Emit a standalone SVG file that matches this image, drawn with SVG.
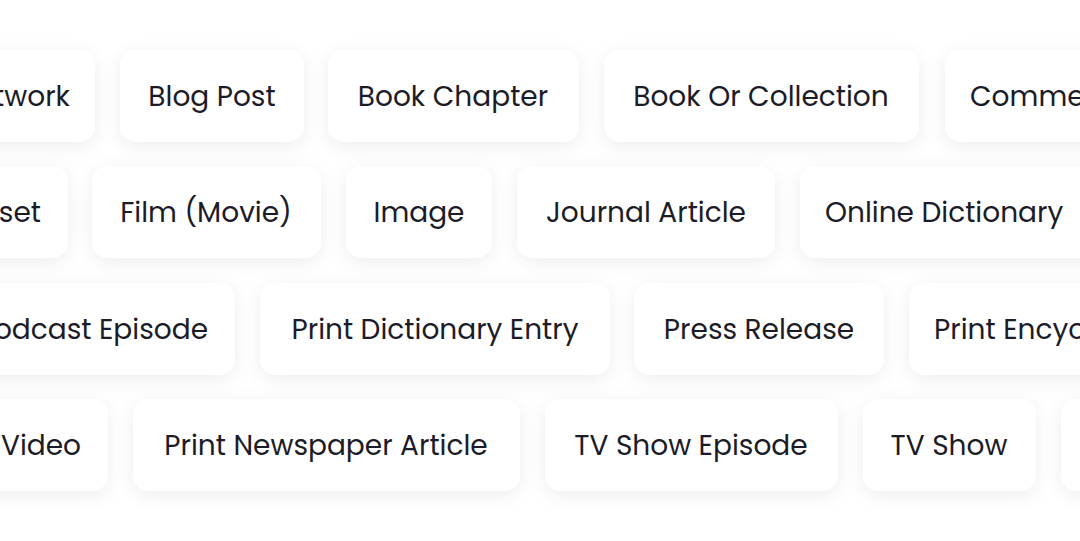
<svg xmlns="http://www.w3.org/2000/svg" width="1080" height="541" viewBox="0 0 1080 541">
<defs>
<filter id="sh" x="-20%" y="-40%" width="140%" height="180%"><feDropShadow dx="0" dy="4" stdDeviation="9" flood-color="#000" flood-opacity="0.07"/></filter>
<style>
.b{fill:#fff;filter:url(#sh)}
text{font-family:Poppins,"Noto Sans","Liberation Sans",sans-serif;font-size:28px;fill:#1c1c28;dominant-baseline:central}
</style>
</defs>
<rect width="1080" height="541" fill="#fff"/>
<g id="row1">
<g id="n-network"><rect class="b" x="-120" y="50" width="215" height="92" rx="16"/><text x="70" y="96" text-anchor="end">Network</text></g>
<g id="n-blog"><rect class="b" x="120" y="50" width="184" height="92" rx="16"/><text x="212" y="96" text-anchor="middle">Blog Post</text></g>
<g id="n-chapter"><rect class="b" x="328" y="50" width="251" height="92" rx="16"/><text x="453" y="96" text-anchor="middle">Book Chapter</text></g>
<g id="n-book"><rect class="b" x="604" y="50" width="315" height="92" rx="16"/><text x="761" y="96" text-anchor="middle">Book Or Collection</text></g>
<g id="n-comment"><rect class="b" x="945" y="50" width="250" height="92" rx="16"/><text x="970" y="96">Comment</text></g>
</g>
<g id="row2">
<g id="n-dataset"><rect class="b" x="-120" y="166" width="188" height="92" rx="16"/><text x="41" y="212" text-anchor="end">Dataset</text></g>
<g id="n-film"><rect class="b" x="92" y="166" width="229" height="92" rx="16"/><text x="206" y="212" text-anchor="middle">Film (Movie)</text></g>
<g id="n-image"><rect class="b" x="346" y="166" width="146" height="92" rx="16"/><text x="419" y="212" text-anchor="middle">Image</text></g>
<g id="n-journal"><rect class="b" x="517" y="166" width="258" height="92" rx="16"/><text x="646" y="212" text-anchor="middle">Journal Article</text></g>
<g id="n-online"><rect class="b" x="800" y="166" width="360" height="92" rx="16"/><text x="825" y="212">Online Dictionary</text></g>
</g>
<g id="row3">
<g id="n-podcast"><rect class="b" x="-120" y="283" width="355" height="92" rx="16"/><text x="208" y="329" text-anchor="end">Podcast Episode</text></g>
<g id="n-printdict"><rect class="b" x="260" y="283" width="350" height="92" rx="16"/><text x="435" y="329" text-anchor="middle">Print Dictionary Entry</text></g>
<g id="n-press"><rect class="b" x="634" y="283" width="250" height="92" rx="16"/><text x="759" y="329" text-anchor="middle">Press Release</text></g>
<g id="n-ency"><rect class="b" x="909" y="283" width="330" height="92" rx="16"/><text x="934" y="329">Print Encyclopedia</text></g>
</g>
<g id="row4">
<g id="n-video"><rect class="b" x="-120" y="399" width="228" height="92" rx="16"/><text x="81" y="445" text-anchor="end">Video</text></g>
<g id="n-newspaper"><rect class="b" x="133" y="399" width="387" height="92" rx="16"/><text x="326" y="445" text-anchor="middle">Print Newspaper Article</text></g>
<g id="n-tvep"><rect class="b" x="545" y="399" width="293" height="92" rx="16"/><text x="691" y="445" text-anchor="middle">TV Show Episode</text></g>
<g id="n-tv"><rect class="b" x="863" y="399" width="173" height="92" rx="16"/><text x="949" y="445" text-anchor="middle">TV Show</text></g>
<g id="n-next"><rect class="b" x="1061" y="399" width="200" height="92" rx="16"/></g>
</g>
<g id="connectors"/>
</svg>
